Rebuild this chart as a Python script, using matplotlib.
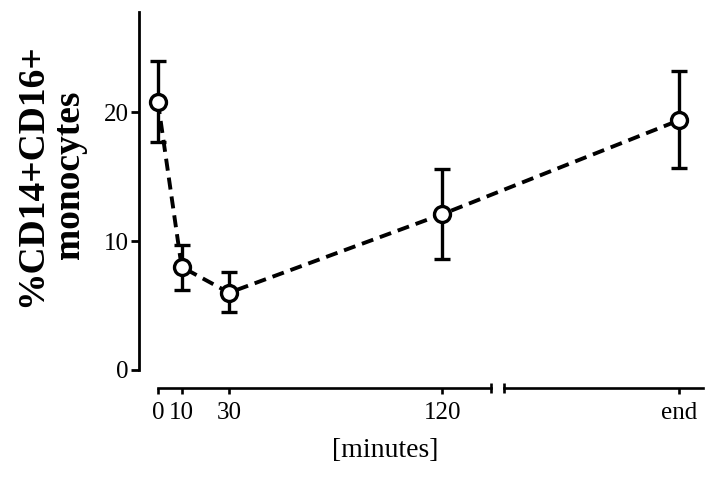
import matplotlib.pyplot as plt
import numpy as np

plt.rcParams['font.family'] = ['Liberation Serif', 'DejaVu Serif']

# time points (minutes); the last one ("end") sits after the axis break
times = [0, 10, 30, 120, 220]
tick_labels = ['0', '10', '30', '120', 'end']
values = [20.8, 8.0, 6.0, 12.1, 19.4]
err_low = [17.7, 6.2, 4.5, 8.6, 15.7]
err_high = [24.0, 9.7, 7.6, 15.6, 23.2]

yerr = [np.array(values) - np.array(err_low), np.array(err_high) - np.array(values)]

fig = plt.figure(figsize=(7.16, 4.80), dpi=100)
ax = fig.add_axes([139 / 716, 110 / 480, 564 / 716, 358 / 480])

ax.errorbar(times, values, yerr=yerr, fmt='none', ecolor='black',
            elinewidth=2.4, capsize=6, capthick=2.4, zorder=2)
ax.plot(times, values, color='black', lw=2.8, ls=(0, (3.1, 1.8)), zorder=3)
ax.plot(times, values, 'o', ms=11.5, mfc='white', mec='black', mew=2.4,
        ls='none', zorder=4)

ax.set_xlim(-8, 230)
ax.set_ylim(0, 27.8)

for s in ['top', 'right']:
    ax.spines[s].set_visible(False)
ax.spines['left'].set_linewidth(2.0)
ax.spines['bottom'].set_position(('outward', 13))
ax.spines['bottom'].set_visible(False)

# broken x axis drawn as two segments
trans = ax.spines['bottom'].get_spine_transform()
ax.plot([0, 140.7], [0, 0], color='black', lw=1.9, transform=trans, clip_on=False)
ax.plot([146.2, 230], [0, 0], color='black', lw=1.9, transform=trans, clip_on=False)
ax.plot([140.7, 146.2], [0, 0], '|', color='black', ms=7, mew=1.9,
        transform=trans, clip_on=False)

ax.set_xticks(times)
ax.set_xticklabels(tick_labels)
ax.set_yticks([0, 10, 20])
ax.tick_params(axis='x', direction='out', length=4, width=1.9,
               labelsize=18, pad=6)
ax.tick_params(axis='y', direction='out', length=5.5, width=2.0,
               labelsize=18, pad=2)

ax.set_xlabel('[minutes]', fontsize=20)
ax.xaxis.set_label_coords(0.436, -0.19)
ax.set_ylabel('%CD14+CD16+\nmonocytes', fontsize=27, fontweight='bold',
              linespacing=1.1)
ax.yaxis.set_label_coords(-0.092, 0.545)

fig.savefig('out.png', dpi=100)
